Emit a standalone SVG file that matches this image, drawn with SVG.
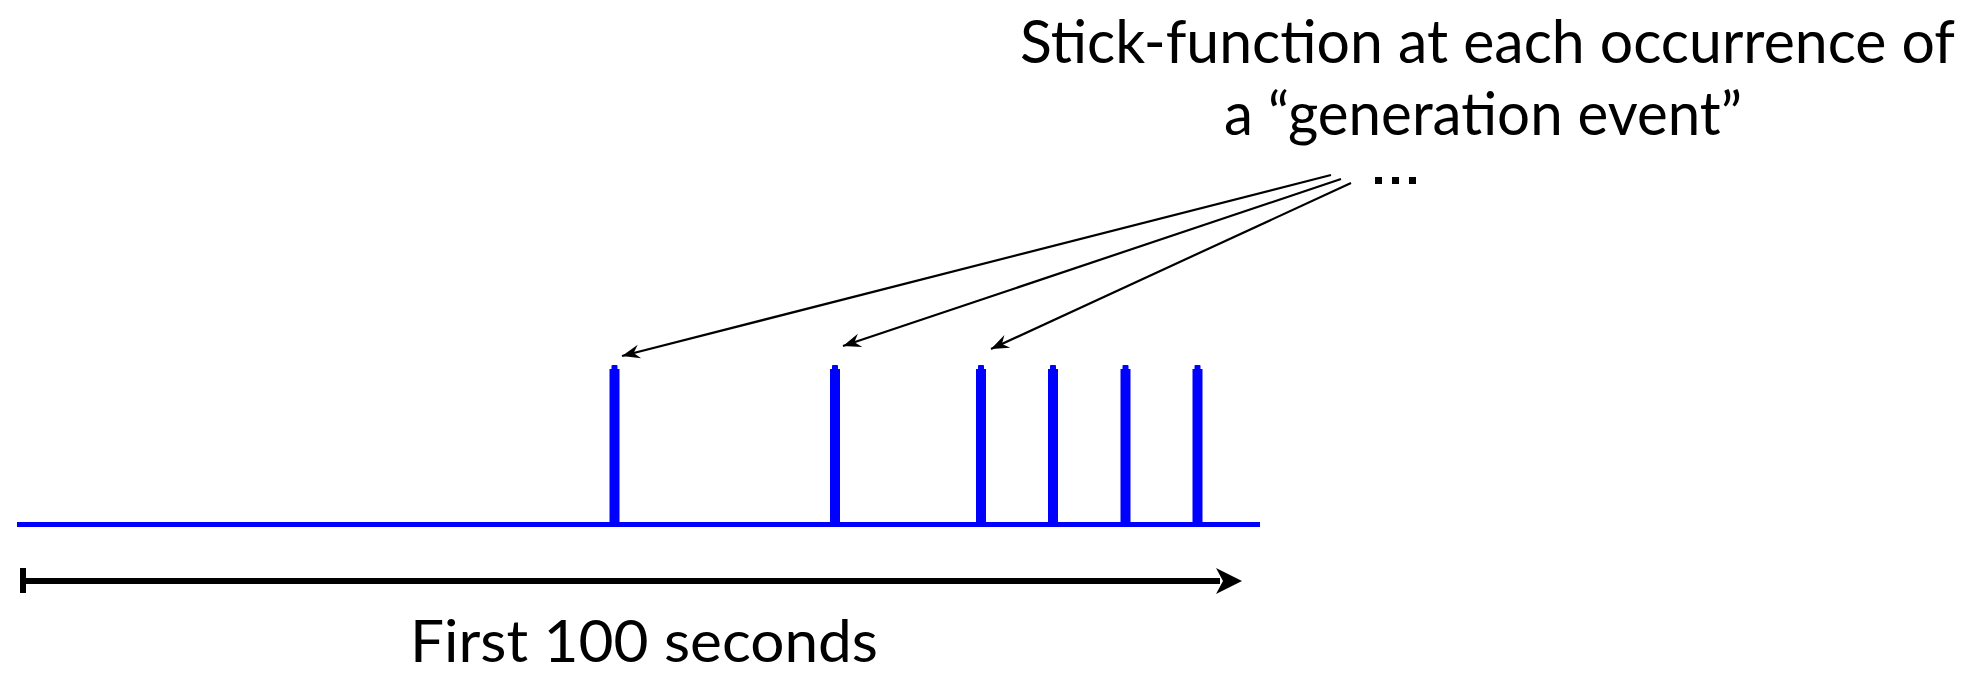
<svg xmlns="http://www.w3.org/2000/svg" width="1968" height="674" viewBox="0 0 1968 674">
  <style>
    .lbl { font-family: "Lato", "Open Sans", "Liberation Sans", sans-serif; font-size: 60px; fill: #000; }
    .small { font-size: 58px; }
    .spike { fill: #0000ff; }
    .ptr { stroke: #000; stroke-width: 2.2; fill: none; }
  </style>
  <defs>
    <marker id="ah" viewBox="-19 -8 20 16" refX="0" refY="0" markerWidth="20" markerHeight="16" markerUnits="userSpaceOnUse" orient="auto">
      <path d="M0,0 L-18,-7 L-12,0 L-18,7 Z" fill="#000"/>
    </marker>
  </defs>
  <rect width="1968" height="674" fill="#fff"/>

  <g id="title">
    <text class="lbl" x="1020" y="63" textLength="935" lengthAdjust="spacingAndGlyphs">Stick-function at each occurrence of</text>
    <text class="lbl" x="1224" y="135" textLength="518" lengthAdjust="spacingAndGlyphs">a “generation event”</text>
    <g fill="#000">
      <rect x="1375" y="177" width="7" height="7"/>
      <rect x="1392" y="177" width="7" height="7"/>
      <rect x="1409" y="177" width="7" height="7"/>
    </g>
  </g>

  <g id="signal">
    <rect x="17" y="522" width="1243" height="5" fill="#0000ff"/>
    <g id="spike1"><rect class="spike" x="609.5" y="369" width="10" height="155"/><rect class="spike" x="611.5" y="365" width="6" height="6" rx="1"/></g>
    <g id="spike2"><rect class="spike" x="830" y="369" width="10" height="155"/><rect class="spike" x="832" y="365" width="6" height="6" rx="1"/></g>
    <g id="spike3"><rect class="spike" x="976" y="369" width="10" height="155"/><rect class="spike" x="978" y="365" width="6" height="6" rx="1"/></g>
    <g id="spike4"><rect class="spike" x="1048" y="369" width="10" height="155"/><rect class="spike" x="1050" y="365" width="6" height="6" rx="1"/></g>
    <g id="spike5"><rect class="spike" x="1120.5" y="369" width="10" height="155"/><rect class="spike" x="1122.5" y="365" width="6" height="6" rx="1"/></g>
    <g id="spike6"><rect class="spike" x="1192.5" y="369" width="10" height="155"/><rect class="spike" x="1194.5" y="365" width="6" height="6" rx="1"/></g>
  </g>

  <g id="connectors">
    <line class="ptr" x1="1331" y1="175" x2="622" y2="356" marker-end="url(#ah)"/>
    <line class="ptr" x1="1341" y1="179" x2="843" y2="346" marker-end="url(#ah)"/>
    <line class="ptr" x1="1351" y1="183" x2="991" y2="349" marker-end="url(#ah)"/>
  </g>

  <g id="ruler">
    <rect x="20" y="568" width="6" height="25" fill="#000"/>
    <rect x="20" y="578" width="1200" height="6" fill="#000"/>
    <path d="M1242,581 L1216,568 L1223,581 L1216,594 Z" fill="#000"/>
    <text class="lbl small" x="410" y="662" textLength="468" lengthAdjust="spacingAndGlyphs">First 100 seconds</text>
  </g>
</svg>
